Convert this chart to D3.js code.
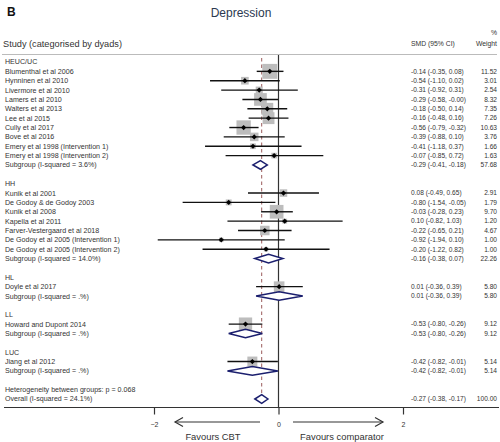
<!DOCTYPE html>
<html><head><meta charset="utf-8">
<script src="https://cdn.jsdelivr.net/npm/d3@7"></script>
<style>
body{margin:0;background:#fff;}
text{font-family:"Liberation Sans",Arial,sans-serif;}
</style></head>
<body><svg id="c" width="500" height="442"></svg>
<script>
// ---- data ----
const rowLabels = [
 "HEUC/UC","Blumenthal et al 2006","Hynninen et al 2010","Livermore et al 2010","Lamers et al  2010",
 "Walters et al 2013","Lee et al 2015","Cully et al 2017","Bove et al 2016",
 "Emery et al 1998 (Intervention 1)","Emery et al 1998 (Intervention 2)","Subgroup (I-squared = 3.6%)","",
 "HH","Kunik et al 2001","De Godoy & de Godoy 2003","Kunik et al 2008","Kapella et al 2011",
 "Farver-Vestergaard et al 2018","De Godoy et al 2005 (Intervention 1)","De Godoy et al 2005 (Intervention 2)",
 "Subgroup (I-squared = 14.0%)","",
 "HL","Doyle et al 2017","Subgroup (I-squared = .%)","",
 "LL","Howard and Dupont 2014","Subgroup (I-squared = .%)","",
 "LUC","Jiang et al  2012","Subgroup (I-squared = .%)","",
 "Heterogeneity between groups: p = 0.068","Overall (I-squared = 24.1%)"
];
// kind: h=header, s=study, g=subgroup diamond, b=blank, t=text, o=overall
const rowKind = ["h","s","s","s","s","s","s","s","s","s","s","g","b",
 "h","s","s","s","s","s","s","s","g","b",
 "h","s","g","b","h","s","g","b","h","s","g","b","t","o"];
const smd    = [null,-0.14,-0.54,-0.31,-0.29,-0.18,-0.16,-0.56,-0.39,-0.41,-0.07,-0.29,null,
 null,0.08,-0.80,-0.03,0.10,-0.22,-0.92,-0.20,-0.16,null,
 null,0.01,0.01,null,null,-0.53,-0.53,null,null,-0.42,-0.42,null,null,-0.27];
const ciLow  = [null,-0.35,-1.10,-0.92,-0.58,-0.50,-0.48,-0.79,-0.88,-1.18,-0.85,-0.41,null,
 null,-0.49,-1.54,-0.28,-0.82,-0.65,-1.94,-1.22,-0.38,null,
 null,-0.36,-0.36,null,null,-0.80,-0.80,null,null,-0.82,-0.82,null,null,-0.38];
const ciHigh = [null,0.08,0.02,0.31,-0.004,0.14,0.16,-0.32,0.10,0.37,0.72,-0.18,null,
 null,0.65,-0.05,0.23,1.03,0.21,0.10,0.82,0.07,null,
 null,0.39,0.39,null,null,-0.26,-0.26,null,null,-0.01,-0.01,null,null,-0.17];
const weight = [null,11.52,3.01,2.54,8.32,7.35,7.26,10.63,3.76,1.66,1.63,57.68,null,
 null,2.91,1.79,9.70,1.20,4.67,1.00,1.00,22.26,null,
 null,5.80,5.80,null,null,9.12,9.12,null,null,5.14,5.14,null,null,100.00];
const tickValues = [-2, 0, 2];
const overallEffect = -0.27;

// ---- layout ----
const svg = d3.select("#c");
const x = d3.scaleLinear().domain([-2, 2]).range([154, 403]);
const y = d3.scaleLinear().domain([0, 36]).range([62, 399]);
const rows = rowLabels.map((l,i)=>({i,label:l,kind:rowKind[i],est:smd[i],lo:ciLow[i],hi:ciHigh[i],w:weight[i]}));
const txt = "#333";

svg.append("text").attr("x",7).attr("y",16).attr("font-size",12).attr("font-weight","bold").attr("fill","#111").text("B");
svg.append("text").attr("x",241).attr("y",17).attr("text-anchor","middle").attr("font-size",12).attr("fill","#2b3950").text("Depression");

svg.append("text").attr("x",3).attr("y",47).attr("font-size",9.2).attr("fill",txt).text("Study (categorised by dyads)");
svg.append("text").attr("x",411).attr("y",46).attr("font-size",6.8).attr("fill",txt).text("SMD (95% CI)");
svg.append("text").attr("x",497).attr("y",35).attr("text-anchor","end").attr("font-size",6.8).attr("fill",txt).text("%");
svg.append("text").attr("x",497).attr("y",46).attr("text-anchor","end").attr("font-size",6.8).attr("fill",txt).text("Weight");

svg.append("line").attr("x1",2).attr("x2",497).attr("y1",54.5).attr("y2",54.5).attr("stroke","#bbb").attr("stroke-width",1);

// labels
svg.append("g").selectAll("text").data(rows.filter(d=>d.label)).join("text")
  .attr("x",5).attr("y",d=>y(d.i)).attr("dy","0.35em").attr("font-size",7.1).attr("fill",txt).text(d=>d.label);

// zero line
svg.append("line").attr("x1",x(0)).attr("x2",x(0)).attr("y1",55).attr("y2",407).attr("stroke","#333").attr("stroke-width",1.2);
// overall dashed line
svg.append("line").attr("x1",x(overallEffect)).attr("x2",x(overallEffect)).attr("y1",58).attr("y2",395)
  .attr("stroke","#9a5a5a").attr("stroke-width",1).attr("stroke-dasharray","3.5,3");

const studies = rows.filter(d=>d.kind==="s");
const k = 4.4;
svg.append("g").selectAll("rect").data(studies).join("rect")
  .attr("x",d=>x(d.est)-k*Math.sqrt(d.w)/2).attr("y",d=>y(d.i)-k*Math.sqrt(d.w)/2)
  .attr("width",d=>k*Math.sqrt(d.w)).attr("height",d=>k*Math.sqrt(d.w)).attr("fill","#bdbdbd");
svg.append("g").selectAll("line").data(studies).join("line")
  .attr("x1",d=>x(d.lo)).attr("x2",d=>x(d.hi)).attr("y1",d=>y(d.i)).attr("y2",d=>y(d.i))
  .attr("stroke","#111").attr("stroke-width",1.4);
svg.append("g").selectAll("path").data(studies).join("path")
  .attr("d",d=>{const cx=x(d.est),cy=y(d.i),r=2.6;return `M${cx-r},${cy}L${cx},${cy-r}L${cx+r},${cy}L${cx},${cy+r}Z`;})
  .attr("fill","#000");

// diamonds
const dia = rows.filter(d=>d.kind==="g"||d.kind==="o");
svg.append("g").selectAll("path").data(dia).join("path")
  .attr("d",d=>{const cy=y(d.i),h=4.3;return `M${x(d.lo)},${cy}L${x(d.est)},${cy-h}L${x(d.hi)},${cy}L${x(d.est)},${cy+h}Z`;})
  .attr("fill","#fff").attr("stroke","#1b1f6e").attr("stroke-width",1.5);

// right columns
const withEst = rows.filter(d=>d.est!==null);
const f = v=>v.toFixed(2);
svg.append("g").selectAll("text").data(withEst).join("text")
  .attr("x",411).attr("y",d=>y(d.i)).attr("dy","0.35em").attr("font-size",6.6).attr("fill",txt)
  .text(d=>`${f(d.est)} (${f(d.lo)}, ${f(d.hi)})`);
svg.append("g").selectAll("text").data(withEst).join("text")
  .attr("x",497).attr("y",d=>y(d.i)).attr("dy","0.35em").attr("text-anchor","end").attr("font-size",6.6).attr("fill",txt)
  .text(d=>f(d.w));

// axis
svg.append("line").attr("x1",4).attr("x2",499).attr("y1",407.5).attr("y2",407.5).attr("stroke","#333").attr("stroke-width",1.2);
const ax = svg.append("g").attr("transform","translate(0,407.5)")
  .call(d3.axisBottom(x).tickValues(tickValues).tickSize(7).tickFormat(d3.format("d")));
ax.select(".domain").remove();
ax.selectAll("line").attr("stroke","#333").attr("stroke-width",1.2);
ax.selectAll("text").attr("font-size",7).attr("fill",txt).attr("font-family","Liberation Sans, Arial, sans-serif").attr("dy","1.3em");

// arrows
function arrow(x1,x2){
  const g=svg.append("g").attr("stroke","#333").attr("stroke-width",1.2).attr("fill","none");
  g.append("line").attr("x1",x1).attr("x2",x2).attr("y1",422).attr("y2",422);
  const s = x2>x1?-1:1;
  g.append("path").attr("d",`M${x2+s*8},${417.5}L${x2},422L${x2+s*8},${426.5}`);
}
arrow(260,175); arrow(293,383);
svg.append("text").attr("x",213).attr("y",440).attr("text-anchor","middle").attr("font-size",9.4).attr("fill",txt).text("Favours CBT");
svg.append("text").attr("x",342).attr("y",440).attr("text-anchor","middle").attr("font-size",9.4).attr("fill",txt).text("Favours comparator");
</script></body></html>
